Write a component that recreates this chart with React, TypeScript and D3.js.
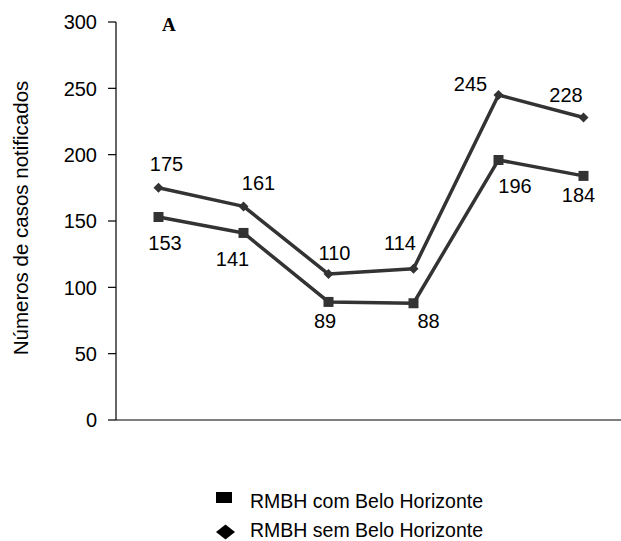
import React from "react";
import * as d3 from "d3";

// Six notification periods (no category labels are shown on the axis)
const periods = ["P1", "P2", "P3", "P4", "P5", "P6"];
const comBH = [153, 141, 89, 88, 196, 184];
const semBH = [175, 161, 110, 114, 245, 228];
const yTicks = [0, 50, 100, 150, 200, 250, 300];

// Label placement relative to each point: [dx, dy] (label centre x, baseline y)
const semLabelOffsets: [number, number][] = [
  [8, -17], [15, -16], [6, -14], [-13.5, -19], [-28, -3.5], [-17.5, -16],
];
const comLabelOffsets: [number, number][] = [
  [6.5, 33], [-11, 33.5], [-3.5, 26], [15, 25], [16.5, 33], [-5, 26],
];

const W = 621;
const H = 541;
const FONT = "'Liberation Sans', Arial, sans-serif";
const LINE = "#333333";

export default function App() {
  const x = d3.scaleBand<string>().domain(periods).range([116, 626]).padding(0);
  const y = d3.scaleLinear().domain([0, 300]).range([420, 22]);
  const cx = (i: number) => (x(periods[i]) ?? 0) + x.bandwidth() / 2;

  const line = d3
    .line<number>()
    .x((_, i) => cx(i))
    .y((d) => y(d));

  const square = d3.symbol().type(d3.symbolSquare).size(100)()!;
  const diamond = d3.symbol().type(d3.symbolSquare).size(50)()!;

  return (
    <svg
      width={W}
      height={H}
      style={{ position: "absolute", left: 0, top: 0, background: "#fff" }}
      fontFamily={FONT}
    >
      {/* axes */}
      <line x1={116} x2={621} y1={y(0)} y2={y(0)} stroke="#000" strokeWidth={1.2} />
      <line x1={116} x2={116} y1={y(300)} y2={y(0)} stroke="#000" strokeWidth={1.2} />
      {yTicks.map((t) => (
        <g key={t}>
          <line x1={108} x2={116} y1={y(t)} y2={y(t)} stroke="#000" strokeWidth={1.2} />
          <text
            x={97}
            y={y(t)}
            dy="0.36em"
            textAnchor="end"
            fontSize={20}
            fill="#000"
          >
            {t}
          </text>
        </g>
      ))}
      <text
        transform={`translate(28,${(y(0) + y(300)) / 2 - 3}) rotate(-90)`}
        textAnchor="middle"
        fontSize={20.5}
        fill="#000"
      >
        Números de casos notificados
      </text>
      <text x={162} y={31} fontFamily="'Liberation Serif', 'Times New Roman', serif" fontWeight="bold" fontSize={19}>
        A
      </text>

      {/* series lines */}
      <path d={line(semBH)!} fill="none" stroke={LINE} strokeWidth={3.5} strokeLinejoin="round" />
      <path d={line(comBH)!} fill="none" stroke={LINE} strokeWidth={3.5} strokeLinejoin="round" />

      {/* markers */}
      {semBH.map((v, i) => (
        <path key={"sd" + i} d={diamond} transform={`translate(${cx(i)},${y(v)}) rotate(45)`} fill={LINE} />
      ))}
      {comBH.map((v, i) => (
        <path key={"cs" + i} d={square} transform={`translate(${cx(i)},${y(v)})`} fill={LINE} />
      ))}

      {/* value labels */}
      {semBH.map((v, i) => (
        <text
          key={"sl" + i}
          x={cx(i) + semLabelOffsets[i][0]}
          y={y(v) + semLabelOffsets[i][1]}
          textAnchor="middle"
          fontSize={20}
          fill="#000"
        >
          {v}
        </text>
      ))}
      {comBH.map((v, i) => (
        <text
          key={"cl" + i}
          x={cx(i) + comLabelOffsets[i][0]}
          y={y(v) + comLabelOffsets[i][1]}
          textAnchor="middle"
          fontSize={20}
          fill="#000"
        >
          {v}
        </text>
      ))}

      {/* legend */}
      <rect x={216} y={492} width={16} height={11} fill="#000" />
      <text x={250} y={508} fontSize={19.5} fill="#000">
        RMBH com Belo Horizonte
      </text>
      <path d="M225.5,524.5 L235,532 L225.5,539.5 L216,532 Z" fill="#000" />
      <text x={250} y={537} fontSize={19.5} fill="#000">
        RMBH sem Belo Horizonte
      </text>
    </svg>
  );
}
